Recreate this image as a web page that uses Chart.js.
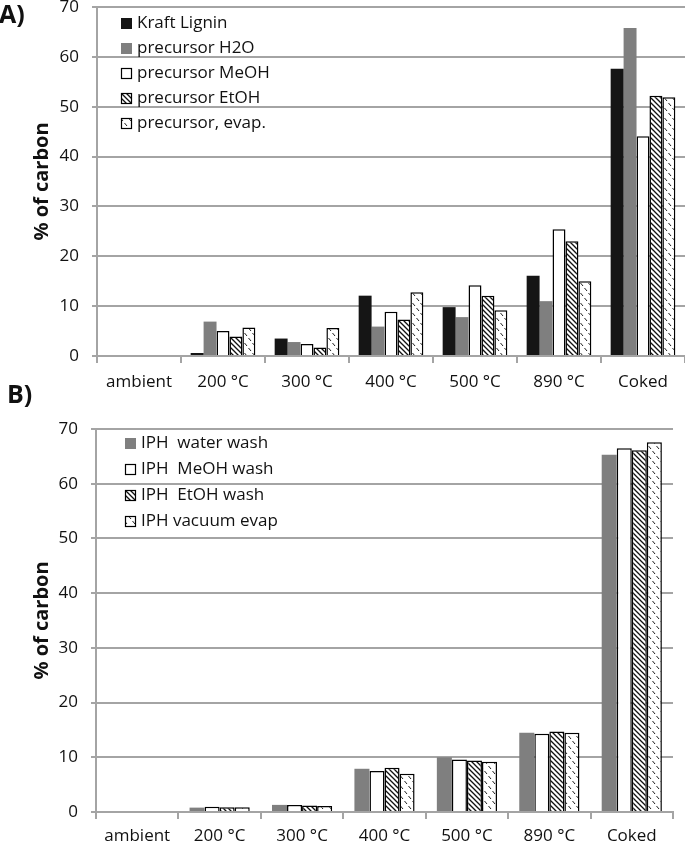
<!DOCTYPE html>
<html>
<head>
<meta charset="utf-8">
<script src="https://cdn.jsdelivr.net/npm/chart.js@4.4.0/dist/chart.umd.min.js"></script>
<style>
  body { margin: 0; background: #fff; overflow: hidden; }
  #page { position: relative; width: 685px; height: 843px; overflow: hidden; }
  .wrap { position: absolute; left: 0; }
  #wrapA { top: -23px; }
  #wrapB { top: 375px; }
</style>
</head>
<body>
<div id="page">
  <div class="wrap" id="wrapA"><canvas id="chartA" width="685" height="420"></canvas></div>
  <div class="wrap" id="wrapB"><canvas id="chartB" width="685" height="468"></canvas></div>
</div>
<script>
// categories on x axis (same for both panels)
var categories = ['ambient', '200 °C', '300 °C', '400 °C', '500 °C', '890 °C', 'Coked'];

// panel A, % of carbon
var seriesA = ['Kraft Lignin', 'precursor H2O', 'precursor MeOH', 'precursor EtOH', 'precursor, evap.'];
var kraftLignin   = [null, 0.6, 3.5, 12.1, 9.8, 16.1, 57.6];
var precursorH2O  = [null, 6.9, 2.8, 5.9, 7.8, 11.0, 65.8];
var precursorMeOH = [null, 5.0, 2.4, 8.9, 14.2, 25.4, 44.1];
var precursorEtOH = [null, 3.9, 1.7, 7.3, 12.1, 23.0, 52.2];
var precursorEvap = [null, 5.7, 5.6, 12.8, 9.2, 15.0, 51.9];

// panel B, % of carbon
var seriesB = ['IPH  water wash', 'IPH  MeOH wash', 'IPH  EtOH wash', 'IPH vacuum evap'];
var iphWater = [null, 0.8, 1.3, 7.9, 10.0, 14.5, 65.3];
var iphMeOH  = [null, 0.95, 1.3, 7.5, 9.6, 14.3, 66.5];
var iphEtOH  = [null, 0.85, 1.2, 8.1, 9.4, 14.7, 66.1];
var iphEvap  = [null, 0.85, 1.1, 7.0, 9.2, 14.5, 67.6];

var yMin = 0;
var yMax = 70;
var yStep = 10;

var gridColor = '#a4a4a4';
var textColor = '#111';
var fontName = '"Open Sans", sans-serif';

// legend boxes drawn inside the plot, plus the panel letter
var boxLegend = {
  id: 'boxLegend',
  afterDraw: function(chart, args, opts) {
    var ctx = chart.ctx;
    var p = opts.pos;
    ctx.save();
    ctx.font = '17px ' + fontName;
    ctx.textBaseline = 'middle';
    ctx.textAlign = 'left';
    chart.data.datasets.forEach(function(ds, i) {
      var cy = p.y + i * p.gap;
      var bx = p.x;
      var by = Math.round(cy - p.box / 2);
      ctx.fillStyle = ds.backgroundColor;
      ctx.fillRect(bx, by, p.box, p.box);
      if (ds.borderWidth > 0) {
        ctx.strokeStyle = ds.borderColor;
        ctx.lineWidth = 1.2;
        ctx.strokeRect(bx + 0.5, by + 0.5, p.box - 1, p.box - 1);
      }
      ctx.fillStyle = textColor;
      ctx.fillText(ds.label, p.textX, cy);
    });
    // panel letter
    ctx.font = 'bold 25px ' + fontName;
    ctx.textBaseline = 'alphabetic';
    ctx.fillStyle = '#111';
    ctx.fillText(opts.tag, opts.tagPos.x, opts.tagPos.y);
    ctx.restore();
  }
};

function init() {
  Chart.defaults.font.family = fontName;
  Chart.defaults.color = textColor;
  Chart.register(boxLegend);

  var hatch = makeHatch();
  var dashes = makeDashes();

  var styles = {
    black: { backgroundColor: '#151515', borderColor: '#151515', borderWidth: 0 },
    gray:  { backgroundColor: '#7f7f7f', borderColor: '#7f7f7f', borderWidth: 0 },
    white: { backgroundColor: '#ffffff', borderColor: '#000', borderWidth: 1.5 },
    hatch: { backgroundColor: hatch, borderColor: '#000', borderWidth: 1.5 },
    dash:  { backgroundColor: dashes, borderColor: '#000', borderWidth: 1.5 }
  };

  drawPanel('chartA', 'A)', {
    names: seriesA,
    values: [kraftLignin, precursorH2O, precursorMeOH, precursorEtOH, precursorEvap],
    looks: [styles.black, styles.gray, styles.white, styles.hatch, styles.dash],
    catPct: 0.77,
    padding: { top: 30, right: 0, bottom: 0, left: 0 },
    yWidth: 97,
    xHeight: 41,
    xPad: 9,
    legend: { x: 121, y: 46, gap: 25, box: 11, textX: 137 },
    tag: { x: -1, y: 46 }
  });

  drawPanel('chartB', 'B)', {
    names: seriesB,
    values: [iphWater, iphMeOH, iphEtOH, iphEvap],
    looks: [styles.gray, styles.white, styles.hatch, styles.dash],
    catPct: 0.73,
    padding: { top: 54, right: 12, bottom: 0, left: 0 },
    yWidth: 96,
    xHeight: 31,
    xPad: 7,
    legend: { x: 125, y: 68, gap: 26, box: 11, textX: 141 },
    tag: { x: 7, y: 28 }
  });
}

function drawPanel(id, tag, cfg) {
  var datasets = [];
  for (var i = 0; i < cfg.names.length; i++) {
    var look = cfg.looks[i];
    datasets.push({
      label: cfg.names[i],
      data: cfg.values[i],
      backgroundColor: look.backgroundColor,
      borderColor: look.borderColor,
      borderWidth: look.borderWidth,
      borderSkipped: 'start',
      categoryPercentage: cfg.catPct,
      barPercentage: 1
    });
  }

  new Chart(document.getElementById(id), {
    type: 'bar',
    data: { labels: categories, datasets: datasets },
    options: {
      responsive: false,
      animation: false,
      devicePixelRatio: 1,
      layout: { padding: cfg.padding },
      plugins: {
        legend: { display: false },
        tooltip: { enabled: false },
        boxLegend: { pos: cfg.legend, tag: tag, tagPos: cfg.tag }
      },
      scales: {
        x: {
          offset: true,
          grid: { display: true, drawOnChartArea: false, color: gridColor, lineWidth: 2, tickLength: 7, offset: true },
          border: { display: true, color: gridColor, width: 2 },
          ticks: { font: { size: 17 }, color: textColor, padding: cfg.xPad, maxRotation: 0 },
          afterFit: function(scale) { scale.height = cfg.xHeight; }
        },
        y: {
          min: yMin,
          max: yMax,
          ticks: { stepSize: yStep, font: { size: 17 }, color: textColor, padding: 13 },
          grid: { color: gridColor, lineWidth: 2, tickLength: 5 },
          border: { display: true, color: gridColor, width: 2 },
          title: {
            display: true,
            text: '% of carbon',
            font: { size: 20, weight: 'bold' },
            color: textColor,
            padding: { top: 30, bottom: 0 }
          },
          afterFit: function(scale) { scale.width = cfg.yWidth; }
        }
      }
    }
  });
}

function makeHatch() {
  var c = document.createElement('canvas');
  c.width = 5;
  c.height = 5;
  var ctx = c.getContext('2d');
  ctx.fillStyle = '#fff';
  ctx.fillRect(0, 0, 5, 5);
  ctx.strokeStyle = '#111';
  ctx.lineWidth = 1.3;
  ctx.beginPath();
  ctx.moveTo(-1, -1); ctx.lineTo(6, 6);
  ctx.moveTo(-1, 4); ctx.lineTo(1, 6);
  ctx.moveTo(4, -1); ctx.lineTo(6, 1);
  ctx.stroke();
  return ctx.createPattern(c, 'repeat');
}

function makeDashes() {
  var c = document.createElement('canvas');
  c.width = 8;
  c.height = 10;
  var ctx = c.getContext('2d');
  ctx.fillStyle = '#fff';
  ctx.fillRect(0, 0, 8, 10);
  ctx.strokeStyle = '#222';
  ctx.lineWidth = 1;
  ctx.beginPath();
  ctx.moveTo(0.5, 1); ctx.lineTo(3, 4);
  ctx.moveTo(4.5, 6); ctx.lineTo(7, 9);
  ctx.stroke();
  return ctx.createPattern(c, 'repeat');
}

init();
</script>
</body>
</html>
